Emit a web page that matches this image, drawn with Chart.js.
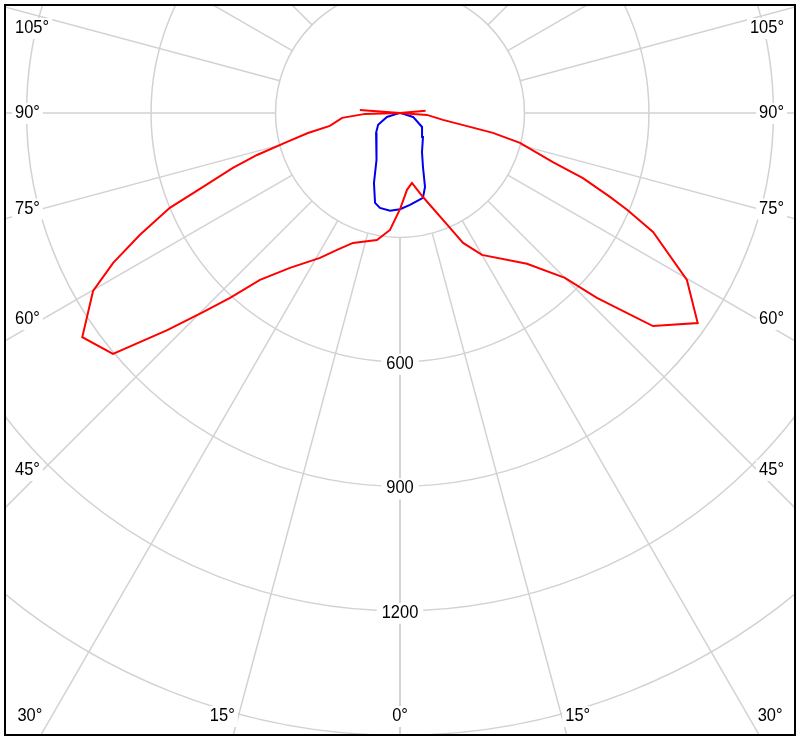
<!DOCTYPE html>
<html>
<head>
<meta charset="utf-8">
<script src="https://cdn.jsdelivr.net/npm/chart.js@4.4.0/dist/chart.umd.min.js"></script>
<style>
  html, body { margin: 0; padding: 0; background: #fff; }
  canvas { display: block; }
</style>
</head>
<body>
<canvas id="polar" width="800" height="741"></canvas>
<script>
// red plane, left half: angle from nadir (deg) / intensity
const redLeftAngles = [0, 4.9, 10.3, 19.9, 24.7, 28.9, 35.4, 40.0, 42.6, 44.7, 47.0, 50.0, 54.8, 59.9, 62.4, 64.9, 67.6, 69.4, 71.8, 73.6, 75.6, 77.7, 79.5, 85.1, 88.4, 90, 94.3, 100];
const redLeftValues = [232, 283, 311, 333, 363, 399, 458, 525, 605, 675, 767, 903, 937, 855, 780, 692, 600, 507, 424, 359, 281, 227, 172, 140, 84, 0, 97, 0];

// red plane, right half
const redRightAngles = [0, 5.2, 9.7, 15.3, 23.5, 25.9, 30.0, 40.1, 45.0, 46.8, 49.9, 54.8, 59.8, 64.8, 66.9, 68.2, 70.4, 72.2, 76.0, 77.9, 78.7, 80.8, 85.8, 90, 94.6, 100];
const redRightValues = [232, 186, 171, 210, 302, 348, 395, 475, 562, 651, 797, 878, 800, 674, 595, 545, 468, 387, 298, 229, 172, 105, 65, 0, 62, 0];

// blue plane
const blueLeftAngles = [0, 5.8, 11.9, 15.5, 20.4, 27.0, 42.6, 50.2, 61.4, 72.9, 90];
const blueLeftValues = [232, 237, 234, 225, 180, 127, 82, 75, 60, 33, 0];
const blueRightAngles = [0, 6.2, 15.1, 18.7, 23.1, 29.4, 43.8, 57.5, 72.9, 90];
const blueRightValues = [232, 223, 212, 188, 141, 108, 80, 63, 33, 0];

// grid
const ringValues = [300, 600, 900, 1200, 1500];
const ringLabels = [600, 900, 1200];
const spokeAngles = [0, 15, 30, 45, 60, 75, 90, 105, 120, 135, 150, 165, 180];
const angleLabels = [0, 15, 30, 45, 60, 75, 90, 105];

const FRAME = { l: 5, t: 5, r: 795, b: 735 };
const FONT = '18.5px "Liberation Sans", Arial, sans-serif';
const TEXT_SX = 0.89; // labels in the picture are a narrow face

function toXY(angles, values, side) {
  return angles.map((a, i) => {
    const t = a * Math.PI / 180;
    return { x: side * values[i] * Math.sin(t), y: -values[i] * Math.cos(t) };
  });
}

function boxedText(ctx, text, x, y, align, pad) {
  const w = ctx.measureText(text).width * TEXT_SX;
  const left = align === 'left' ? x : align === 'right' ? x - w : x - w / 2;
  ctx.fillStyle = '#fff';
  ctx.fillRect(left - pad, y - 10, w + 2 * pad, 21);
  ctx.save();
  ctx.fillStyle = '#000';
  ctx.textAlign = 'left';
  ctx.textBaseline = 'middle';
  ctx.translate(left, y);
  ctx.scale(TEXT_SX, 1);
  ctx.fillText(text, 0, 0);
  ctx.restore();
}

const polarGrid = {
  id: 'polarGrid',
  beforeDatasetsDraw(chart) {
    const { ctx, scales: { x, y } } = chart;
    const cx = x.getPixelForValue(0), cy = y.getPixelForValue(0);
    const rad = v => x.getPixelForValue(v) - cx;

    ctx.save();
    ctx.beginPath();
    ctx.rect(FRAME.l, FRAME.t, FRAME.r - FRAME.l, FRAME.b - FRAME.t);
    ctx.clip();

    ctx.strokeStyle = '#d2d2d2';
    ctx.lineWidth = 1.5;
    ringValues.forEach(v => {
      ctx.beginPath();
      ctx.arc(cx, cy, rad(v), 0, 2 * Math.PI);
      ctx.stroke();
    });
    const r0 = rad(ringValues[0]), r1 = rad(4000);
    spokeAngles.forEach(a => [-1, 1].forEach(s => {
      const t = a * Math.PI / 180;
      const dx = s * Math.sin(t), dy = Math.cos(t);
      ctx.beginPath();
      ctx.moveTo(cx + dx * r0, cy + dy * r0);
      ctx.lineTo(cx + dx * r1, cy + dy * r1);
      ctx.stroke();
    }));

    ctx.font = FONT;
    ringLabels.forEach(v => boxedText(ctx, String(v), cx, cy + rad(v) + 2, 'center', 5));

    const bottomDy = FRAME.b - cy;
    const sideDx = (cx - FRAME.l) - 38;
    angleLabels.forEach(a => {
      const t = a * Math.PI / 180;
      const txt = a + '°';
      if (a === 0) {
        boxedText(ctx, txt, cx, FRAME.b - 19, 'center', 3);
      } else if (a < 90 && Math.tan(t) < (cx - FRAME.l) / bottomDy) {
        const off = bottomDy * Math.tan(t) + 11;
        boxedText(ctx, txt, cx - off, FRAME.b - 19, 'center', 3);
        boxedText(ctx, txt, cx + off, FRAME.b - 19, 'center', 3);
      } else {
        const ly = Math.max(FRAME.t + 23, cy + sideDx * Math.cos(t) / Math.sin(t));
        boxedText(ctx, txt, FRAME.l + 10, ly, 'left', 3);
        boxedText(ctx, txt, FRAME.r - 11, ly, 'right', 3);
      }
    });
    ctx.restore();
  },
  afterDraw(chart) {
    const { ctx } = chart;
    ctx.save();
    ctx.strokeStyle = '#000';
    ctx.lineWidth = 2;
    ctx.strokeRect(FRAME.l, FRAME.t, FRAME.r - FRAME.l, FRAME.b - FRAME.t);
    ctx.restore();
  }
};

const redData = toXY(redLeftAngles, redLeftValues, -1).reverse()
  .concat(toXY(redRightAngles, redRightValues, 1));
const blueData = toXY(blueLeftAngles, blueLeftValues, -1).reverse()
  .concat(toXY(blueRightAngles, blueRightValues, 1));

new Chart(document.getElementById('polar'), {
  type: 'scatter',
  data: {
    datasets: [{
      label: 'C0-C180',
      data: redData,
      showLine: true,
      borderColor: '#ff0000',
      borderWidth: 2,
      pointRadius: 0,
      tension: 0,
      fill: false
    }, {
      label: 'C90-C270',
      data: blueData,
      showLine: true,
      borderColor: '#0000ee',
      borderWidth: 2,
      pointRadius: 0,
      tension: 0,
      fill: false
    }]
  },
  options: {
    responsive: false,
    animation: false,
    layout: { padding: 0 },
    plugins: { legend: { display: false }, tooltip: { enabled: false } },
    scales: {
      x: { type: 'linear', min: -964, max: 964, display: false },
      y: { type: 'linear', min: -1513, max: 272, display: false }
    }
  },
  plugins: [polarGrid]
});
</script>
</body>
</html>
